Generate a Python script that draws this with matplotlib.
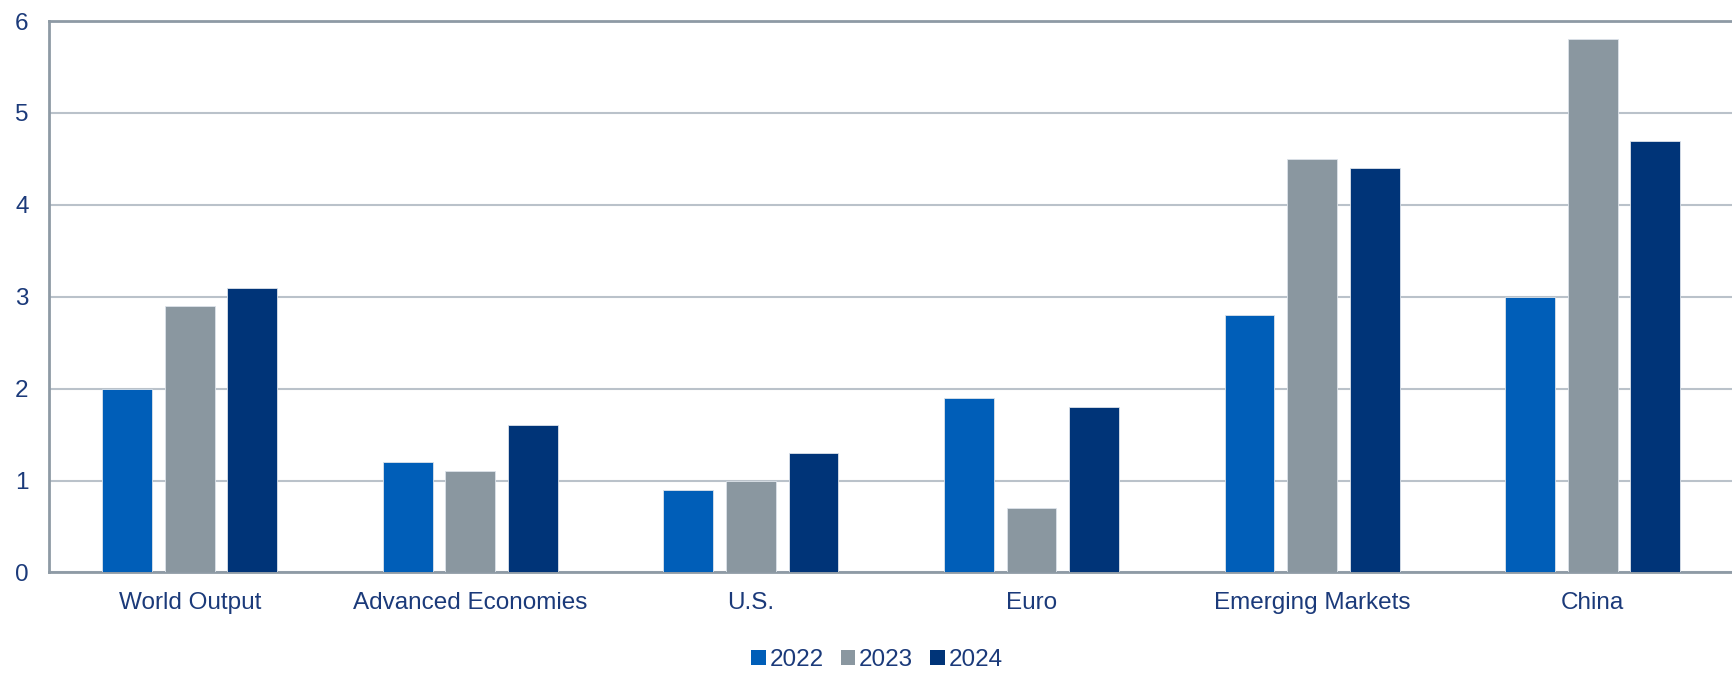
import numpy as np
from matplotlib import pyplot as plt
from matplotlib.patches import Patch

plt.rcParams['font.family'] = ['Liberation Sans', 'DejaVu Sans']

# Data
regions = ['World Output', 'Advanced Economies', 'U.S.', 'Euro',
           'Emerging Markets', 'China']
years = ['2022', '2023', '2024']
vals_2022 = [2.0, 1.2, 0.9, 1.9, 2.8, 3.0]
vals_2023 = [2.9, 1.1, 1.0, 0.7, 4.5, 5.8]
vals_2024 = [3.1, 1.6, 1.3, 1.8, 4.4, 4.7]
y_ticks = [0, 1, 2, 3, 4, 5, 6]

colors = ['#005EB8', '#8A97A0', '#003478']
text_col = '#1B3A7A'
spine_col = '#8E9AA5'
grid_col = '#BAC2CA'

fig = plt.figure(figsize=(17.33, 6.74), dpi=100)
ax = fig.add_axes([0.0285, 0.1506, 0.9715, 0.8182])

x = np.arange(len(regions))
step = 0.223
width = 0.177
for i, (data, col) in enumerate(zip([vals_2022, vals_2023, vals_2024], colors)):
    ax.bar(x + (i - 1) * step, data, width=width, color=col,
           edgecolor='#DDE3EA', linewidth=0.6, zorder=3)

ax.set_xlim(-0.5, len(regions) - 0.5)
ax.set_ylim(0, 6)
ax.set_yticks(y_ticks)
ax.set_xticks(x)
ax.set_xticklabels(regions)
ax.yaxis.grid(True, color=grid_col, linewidth=1.5, zorder=0)
ax.tick_params(axis='both', length=0, labelsize=17.5, colors=text_col)
ax.tick_params(axis='x', pad=14)
ax.tick_params(axis='y', pad=15)

for side in ['left', 'bottom', 'top']:
    ax.spines[side].set_color(spine_col)
    ax.spines[side].set_linewidth(2)
ax.spines['right'].set_visible(False)

handles = [Patch(facecolor=c, edgecolor='none') for c in colors]
fig.legend(handles, years, loc='lower center', bbox_to_anchor=(0.506, -0.028),
           ncol=3, frameon=False, fontsize=17.5, handlelength=0.6,
           handleheight=0.6, handletextpad=0.15, columnspacing=0.7,
           labelcolor=text_col)

plt.savefig('out.png', dpi=100)
